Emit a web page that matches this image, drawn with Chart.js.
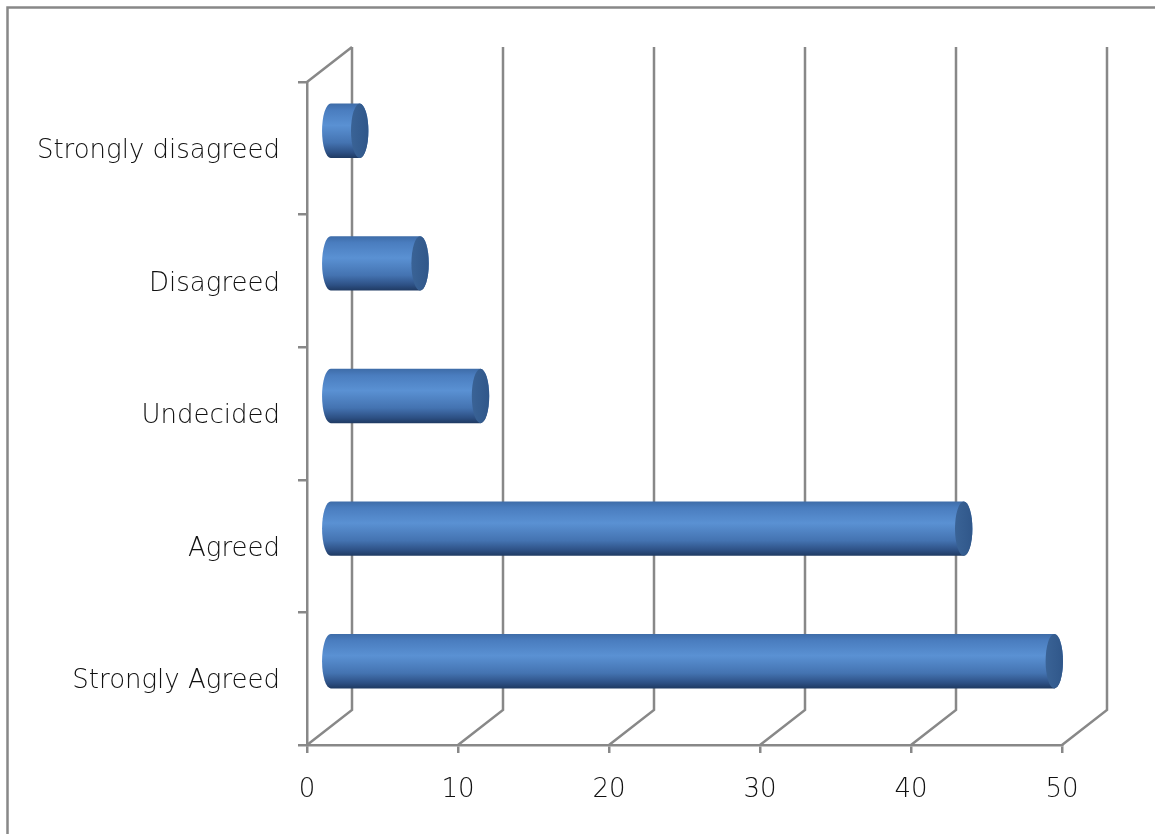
<!DOCTYPE html>
<html>
<head>
<meta charset="utf-8">
<script src="https://cdn.jsdelivr.net/npm/chart.js@4"></script>
<style>
  html, body { margin: 0; padding: 0; background: #fff; }
  canvas { display: block; }
</style>
</head>
<body>
<canvas id="chart" width="1155" height="834"></canvas>
<script>
const categories = ['Strongly disagreed', 'Disagreed', 'Undecided', 'Agreed', 'Strongly Agreed'];
const responses = [2, 6, 10, 42, 48];
const xTicks = [0, 10, 20, 30, 40, 50];

// depth of the 3D box (back wall offset from the front axes)
const DEPTH_X = 45, DEPTH_Y = 35;
const axisGrey = '#888888';
const lineW = 2.5;
const labelFont = { family: "'DejaVu Sans', sans-serif", size: 26, weight: '200' };

// outer frame + back wall lines + floor diagonals
const wallPlugin = {
  id: 'wall',
  beforeDraw(chart) {
    const c = chart.ctx;
    c.save();
    c.fillStyle = '#fff';
    c.fillRect(0, 0, chart.width, chart.height);
    c.strokeStyle = axisGrey;
    c.lineWidth = lineW;
    c.beginPath();
    c.moveTo(7.5, chart.height);
    c.lineTo(7.5, 7.5);
    c.lineTo(chart.width, 7.5);
    c.stroke();
    c.restore();
  },
  beforeDatasetsDraw(chart) {
    const { ctx: c, chartArea: a, scales: { x } } = chart;
    c.save();
    c.strokeStyle = axisGrey;
    c.lineWidth = lineW;
    c.beginPath();
    xTicks.forEach(v => {
      const px = x.getPixelForValue(v);
      c.moveTo(px, a.bottom);
      c.lineTo(px + DEPTH_X, a.bottom - DEPTH_Y);
      c.lineTo(px + DEPTH_X, a.top - DEPTH_Y);
    });
    c.moveTo(a.left, a.top);
    c.lineTo(a.left + DEPTH_X, a.top - DEPTH_Y);
    c.stroke();
    c.restore();
  }
};

// draw each bar element as a cylinder sitting halfway into the box
const cylinderPlugin = {
  id: 'cylinders',
  afterDatasetsDraw(chart) {
    const c = chart.ctx;
    const meta = chart.getDatasetMeta(0);
    c.save();
    meta.data.forEach(bar => {
      const ry = bar.height / 2;
      const rx = ry * 0.32;
      const cy = bar.y - DEPTH_Y / 2;
      const x0 = bar.base + DEPTH_X / 2;
      const x1 = bar.x + DEPTH_X / 2;
      const top = cy - ry, bottom = cy + ry;

      const g = c.createLinearGradient(0, top, 0, bottom);
      g.addColorStop(0, '#3e6ca8');
      g.addColorStop(0.12, '#4a7dbf');
      g.addColorStop(0.4, '#5a91d3');
      g.addColorStop(0.72, '#4473b1');
      g.addColorStop(0.9, '#2d5084');
      g.addColorStop(1, '#1f3a62');

      c.beginPath();
      c.ellipse(x0, cy, rx, ry, 0, Math.PI / 2, Math.PI * 1.5);
      c.lineTo(x1, top);
      c.ellipse(x1, cy, rx, ry, 0, -Math.PI / 2, Math.PI / 2);
      c.closePath();
      c.fillStyle = g;
      c.fill();

      const cg = c.createLinearGradient(x1 - rx, 0, x1 + rx, 0);
      cg.addColorStop(0, '#3a6396');
      cg.addColorStop(1, '#30578a');
      c.beginPath();
      c.ellipse(x1, cy, rx, ry, 0, 0, Math.PI * 2);
      c.fillStyle = cg;
      c.fill();
    });
    c.restore();
  }
};

new Chart(document.getElementById('chart'), {
  type: 'bar',
  data: {
    labels: categories,
    datasets: [{
      data: responses,
      backgroundColor: 'rgba(0,0,0,0)',
      borderWidth: 0,
      barPercentage: 0.41,
      categoryPercentage: 1
    }]
  },
  options: {
    indexAxis: 'y',
    responsive: false,
    animation: false,
    layout: { padding: { left: 0, top: 82, right: 93, bottom: 0 } },
    plugins: {
      legend: { display: false },
      tooltip: { enabled: false }
    },
    scales: {
      x: {
        min: 0,
        max: 50,
        ticks: { stepSize: 10, color: '#111', font: labelFont, padding: 22 },
        grid: { drawOnChartArea: false, drawTicks: true, tickLength: 8, color: axisGrey, lineWidth: lineW },
        border: { color: axisGrey, width: lineW },
        afterFit(s) { s.height = 89; }
      },
      y: {
        ticks: { color: '#111', font: labelFont, padding: 18, labelOffset: 3 },
        grid: { drawOnChartArea: false, drawTicks: true, tickLength: 9, color: axisGrey, lineWidth: lineW, offset: true },
        border: { color: axisGrey, width: lineW },
        afterFit(s) { s.width = 307; }
      }
    }
  },
  plugins: [wallPlugin, cylinderPlugin]
});
</script>
</body>
</html>
